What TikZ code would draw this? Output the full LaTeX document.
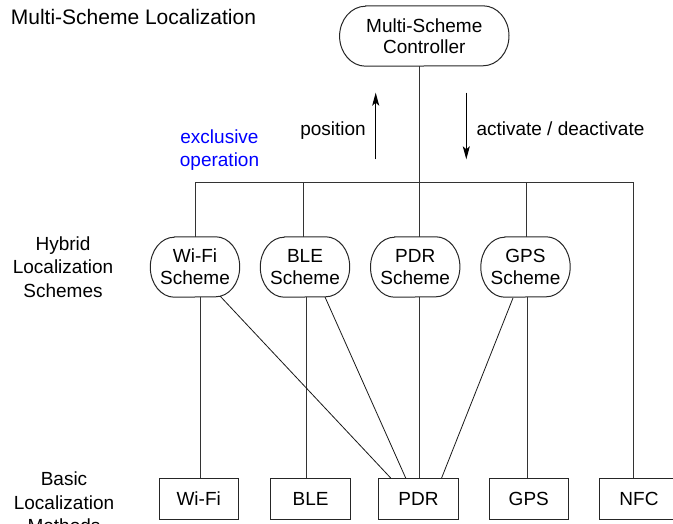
\documentclass[tikz,border=0pt]{standalone}
\usepackage{fontspec}
\setmainfont{Liberation Sans}
\usetikzlibrary{arrows.meta}
\newcommand\ovalshape[3]{%
  \draw[shapeline] ([xshift=#2]#1.north west) -- ([xshift=-#2]#1.north east)
    arc[start angle=90,end angle=-90,x radius=#2,y radius=#3]
    -- ([xshift=#2]#1.south west)
    arc[start angle=270,end angle=90,x radius=#2,y radius=#3] -- cycle;}
\begin{document}
\begin{tikzpicture}[x=1pt,y=-1pt,
  txt/.style={font=\fontsize{19}{23.5}\selectfont, align=center, inner sep=0pt},
  shapeline/.style={line width=1pt, draw=black!85},
  scheme/.style={txt, minimum width=89pt, minimum height=60pt, font=\fontsize{19}{22}\selectfont},
  ctrl/.style={txt, minimum width=169pt, minimum height=60pt, font=\fontsize{19}{21}\selectfont},
  mbox/.style={txt, draw=black!85, line width=1pt, minimum height=41.3pt, minimum width=79.5pt},
  conn/.style={line width=0.9pt, draw=black!80},
  diag/.style={line width=0.8pt, draw=black!90},
  arr/.style={line width=1pt, -{Stealth[length=13pt,width=7pt,inset=3pt]}}
]
\useasboundingbox (0,0) rectangle (673,524);

% title
\node[txt, anchor=base west, font=\fontsize{21}{25}\selectfont] (title) at (10.7,25) {Multi-Scheme Localization};

% controller
\node[ctrl] (ctrl) at (424.3,36) {Multi-Scheme\\Controller};
\ovalshape{ctrl}{26pt}{30pt}

% bus
\coordinate (bc) at (419.5,182.5);
\coordinate (b1) at (195.5,182.5);
\coordinate (b2) at (303.5,182.5);
\coordinate (b4) at (526.5,182.5);
\coordinate (b5) at (633.5,182.5);
\draw[conn] (ctrl.south -| bc) -- (bc);
\draw[conn] (b1) -- (b5);

% arrows
\coordinate (pu1) at (375.7,159.3);
\coordinate (pu2) at (375.7,92.7);
\draw[arr] (pu1) -- (pu2);
\node[txt] (pos) at (333,131) {position};
\coordinate (ad1) at (466.3,92.7);
\coordinate (ad2) at (466.3,159.3);
\draw[arr] (ad1) -- (ad2);
\node[txt, anchor=west] (act) at (476.3,128.3) {activate / deactivate};
\node[txt, text=blue] (excl) at (219.5,150) {exclusive\\operation};

% schemes
\node[scheme] (swifi) at (195,267) {Wi-Fi\\Scheme};
\node[scheme] (sble) at (305,267) {BLE\\Scheme};
\node[scheme] (spdr) at (415.2,267) {PDR\\Scheme};
\node[scheme] (sgps) at (525.5,267) {GPS\\Scheme};
\ovalshape{swifi}{24pt}{30pt}
\ovalshape{sble}{24pt}{30pt}
\ovalshape{spdr}{24pt}{30pt}
\ovalshape{sgps}{24pt}{30pt}

\node[txt] (hyb) at (63,267) {Hybrid\\Localization\\Schemes};

% bus drops
\draw[conn] (b1) -- (swifi.north -| b1);
\draw[conn] (b2) -- (sble.north -| b2);
\draw[conn] (bc) -- (spdr.north -| bc);
\draw[conn] (b4) -- (sgps.north -| b4);

% basic methods
\node[mbox, minimum width=79.3pt] (wifi) at (198.7,498.7) {Wi-Fi};
\node[mbox] (ble) at (310.7,498.7) {BLE};
\node[mbox] (pdr) at (418.5,498.7) {PDR};
\node[mbox] (gps) at (528.8,498.7) {GPS};
\node[mbox, minimum width=80pt] (nfc) at (639,498.7) {NFC};

\node[txt] (basic) at (64,502.7) {Basic\\Localization\\Methods};

% scheme to method lines
\coordinate (x1) at (200.5,0);
\coordinate (x2) at (306.5,0);
\coordinate (x4) at (527.5,0);
\draw[conn] (swifi.south -| x1) -- (wifi.north -| x1);
\draw[conn] (sble.south -| x2) -- (ble.north -| x2);
\draw[conn] (spdr.south -| bc) -- (pdr.north -| bc);
\draw[conn] (sgps.south -| x4) -- (gps.north -| x4);
\draw[conn] (b5) -- (nfc.north -| b5);

% diagonals into PDR
\coordinate (d1s) at (220,296);
\coordinate (d1e) at (390.7,478);
\coordinate (d2s) at (325,297);
\coordinate (d2e) at (405.7,478);
\coordinate (d3s) at (513,298);
\coordinate (d3e) at (441.6,478);
\draw[diag] (d1s) -- (d1e);
\draw[diag] (d2s) -- (d2e);
\draw[diag] (d3s) -- (d3e);
\end{tikzpicture}
\end{document}
